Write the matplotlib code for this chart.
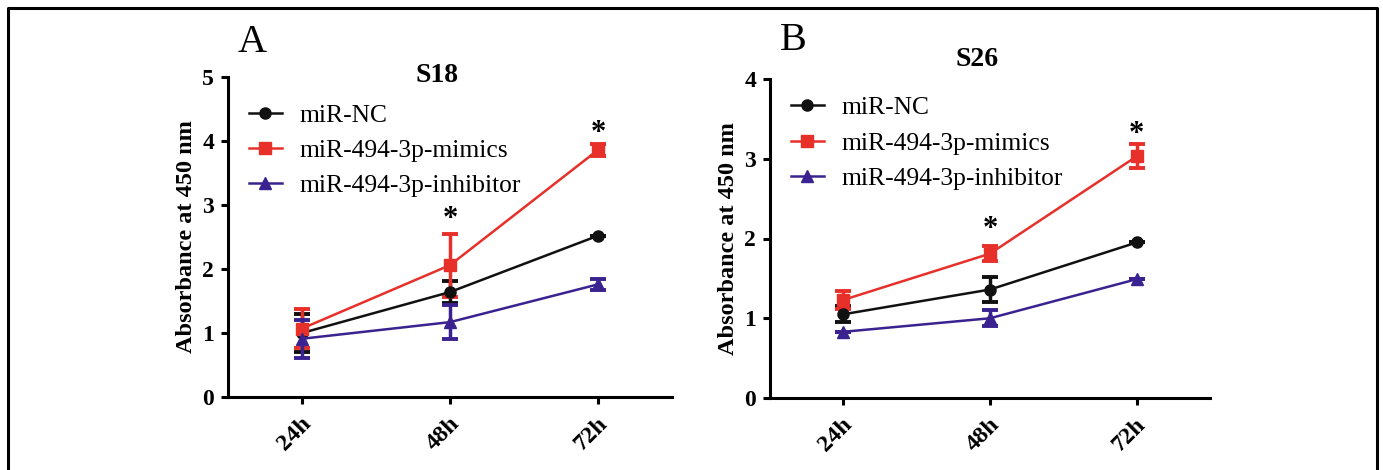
import matplotlib
matplotlib.use("Agg")
import matplotlib.pyplot as plt
import matplotlib.transforms as mtransforms
from matplotlib.lines import Line2D
import numpy as np

plt.rcParams["font.family"] = ["Liberation Serif", "DejaVu Serif"]

times = ["24h", "48h", "72h"]
groups = ["miR-NC", "miR-494-3p-mimics", "miR-494-3p-inhibitor"]
colors = ["#111111", "#E8302A", "#3A2390"]
markers = ["o", "s", "^"]

# panel A, S18
s18_mean = {
    "miR-NC": [1.00, 1.64, 2.52],
    "miR-494-3p-mimics": [1.07, 2.06, 3.86],
    "miR-494-3p-inhibitor": [0.91, 1.17, 1.76],
}
s18_err = {
    "miR-NC": [0.30, 0.17, 0.0],
    "miR-494-3p-mimics": [0.30, 0.49, 0.09],
    "miR-494-3p-inhibitor": [0.30, 0.27, 0.09],
}
s18_star = [None, 2.78, 4.12]

# panel B, S26
s26_mean = {
    "miR-NC": [1.05, 1.36, 1.95],
    "miR-494-3p-mimics": [1.23, 1.81, 3.03],
    "miR-494-3p-inhibitor": [0.83, 1.00, 1.49],
}
s26_err = {
    "miR-NC": [0.10, 0.16, 0.0],
    "miR-494-3p-mimics": [0.11, 0.09, 0.15],
    "miR-494-3p-inhibitor": [0.0, 0.10, 0.0],
}
s26_star = [None, 2.11, 3.30]

fig = plt.figure(figsize=(13.83, 4.70), dpi=100)

# outer frame
fig.add_artist(Line2D([7.5 / 1383, 7.5 / 1383, 1376.5 / 1383, 1376.5 / 1383],
                      [0, 1 - 7.5 / 470, 1 - 7.5 / 470, 0],
                      transform=fig.transFigure, color="black", lw=2.2))

axA = fig.add_axes([228 / 1383, 1 - 397 / 470, 444 / 1383, 320 / 470])
axB = fig.add_axes([770 / 1383, 1 - 398 / 470, 440 / 1383, 319 / 470])


def draw(ax, mean, err, star, ymax, title, title_y, letter, letter_xy, leg_y):
    x = np.arange(len(times))
    handles = []
    for g, c, m in zip(groups, colors, markers):
        ax.errorbar(x, mean[g], yerr=err[g], color=c, marker=m, ms=8,
                    lw=1.8, elinewidth=2.5, capsize=5.5, capthick=2.8)
        handles.append(Line2D([], [], color=c, marker=m, ms=8, lw=1.8, label=g))
    for xi, s in zip(x, star):
        if s is not None:
            ax.text(xi, s, "*", ha="center", va="center", fontsize=22,
                    fontweight="bold")
    ax.set_xlim(-0.5, 2.5)
    ax.set_ylim(0, ymax)
    ax.set_yticks(range(ymax + 1))
    ax.set_xticks(x)
    ax.set_xticklabels(times, rotation=45, ha="right", va="center",
                       rotation_mode="anchor")
    for sp in ["top", "right"]:
        ax.spines[sp].set_visible(False)
    for sp in ["left", "bottom"]:
        ax.spines[sp].set_linewidth(2.2)
    ax.tick_params(direction="out", length=5, width=2.2, labelsize=17, pad=5)
    ax.tick_params(axis="x", pad=12, labelsize=17.5)
    shift = mtransforms.ScaledTranslation(6 / 100, 0, fig.dpi_scale_trans)
    for lab in ax.get_xticklabels():
        lab.set_transform(lab.get_transform() + shift)
    for lab in ax.get_xticklabels() + ax.get_yticklabels():
        lab.set_fontweight("bold")
    ax.set_ylabel("Absorbance at 450 nm", fontsize=17.5, fontweight="bold",
                  labelpad=4)
    ax.text(0.47, title_y, title, transform=ax.transAxes, fontsize=20,
            fontweight="bold", ha="center", va="baseline")
    ax.text(letter_xy[0], letter_xy[1], letter, transform=fig.transFigure,
            fontsize=29, ha="center", va="center")
    ax.legend(handles=handles, loc="upper left", bbox_to_anchor=(0.047, leg_y),
              frameon=False, fontsize=18.4, handlelength=1.3,
              labelspacing=0.48, handletextpad=0.7, borderaxespad=0,
              borderpad=0)


draw(axA, s18_mean, s18_err, s18_star, 5, "S18", 0.985, "A",
     (252 / 1383, 1 - 42 / 470), 0.915)
draw(axB, s26_mean, s26_err, s26_star, 4, "S26", 1.04, "B",
     (793 / 1383, 1 - 41 / 470), 0.945)

fig.savefig("out.png", dpi=100)
